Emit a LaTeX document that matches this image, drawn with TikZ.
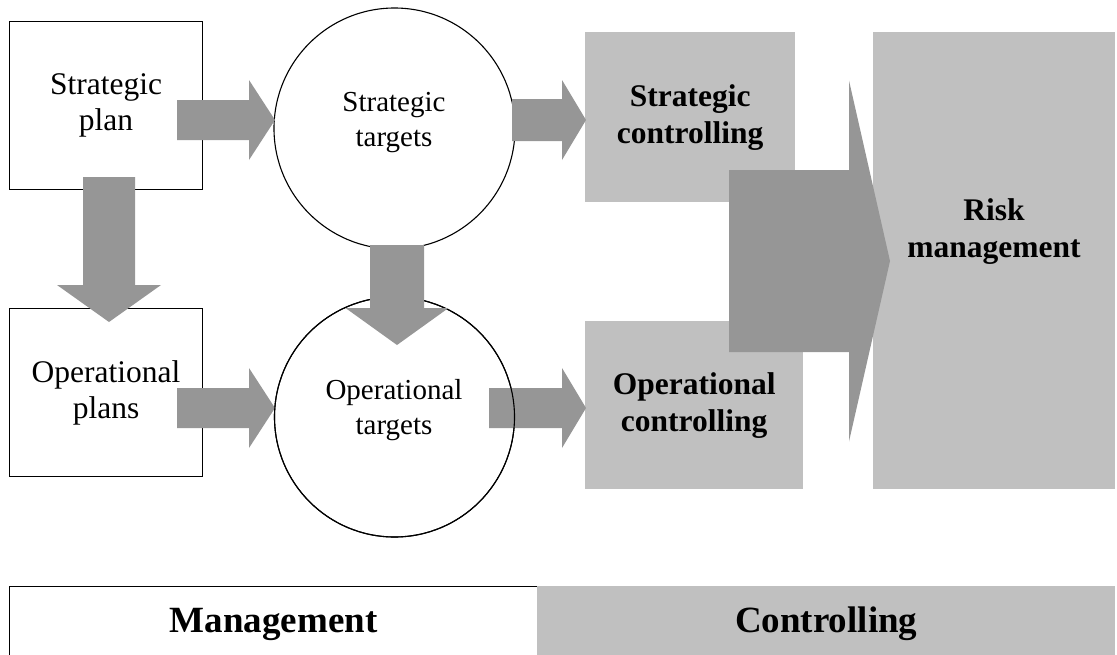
\documentclass[tikz,border=0pt]{standalone}
\usepackage{fontspec}
\setmainfont{Liberation Serif}
\usetikzlibrary{calc}
\definecolor{boxgray}{RGB}{192,192,192}
\definecolor{arrowgray}{RGB}{150,150,150}
\tikzset{
  plainbox/.style={draw=black, line width=1.1pt, fill=white, inner sep=0pt, align=center,
    font=\fontsize{31.5}{36}\selectfont},
  targetcircle/.style={draw=black, line width=1.1pt, fill=white, circle, inner sep=0pt},
  targettext/.style={align=center, inner sep=0pt, font=\fontsize{29}{35}\selectfont},
  ctrlbox/.style={fill=boxgray, inner sep=0pt, align=center,
    font=\bfseries\fontsize{31.5}{37}\selectfont},
  boldtext/.style={align=center, inner sep=0pt, font=\bfseries\fontsize{31.5}{37}\selectfont},
  bottomlabel/.style={font=\bfseries\fontsize{37}{44}\selectfont},
  blockarrow/.style={fill=arrowgray}
}
% right-pointing block arrow: #1 start, #2 tip, #3 head length, #4 half shaft, #5 half head
\newcommand\myrightblock[5]{%
  \fill[blockarrow] let \p1=(#1), \p2=(#2) in
    (\x1,\y2+#4pt) -- (\x2-#3pt,\y2+#4pt) -- (\x2-#3pt,\y2+#5pt) -- (\x2,\y2)
    -- (\x2-#3pt,\y2-#5pt) -- (\x2-#3pt,\y2-#4pt) -- (\x1,\y2-#4pt) -- cycle;}
% down-pointing block arrow
\newcommand\mydownblock[5]{%
  \fill[blockarrow] let \p1=(#1), \p2=(#2) in
    (\x2-#4pt,\y1) -- (\x2-#4pt,\y2+#3pt) -- (\x2-#5pt,\y2+#3pt) -- (\x2,\y2)
    -- (\x2+#5pt,\y2+#3pt) -- (\x2+#4pt,\y2+#3pt) -- (\x2+#4pt,\y1) -- cycle;}
\begin{document}
\begin{tikzpicture}[x=1pt,y=-1pt]
\useasboundingbox (0,0) rectangle (1117,654);
\clip (0,0) rectangle (1117,654);

% management side
\node[plainbox, minimum width=193pt, minimum height=168pt, anchor=north west] (sp) at (9,21) {Strategic\\plan};
\node[plainbox, minimum width=193pt, minimum height=168pt, anchor=north west] (op) at (9,308) {Operational\\plans};
\node[targetcircle, minimum size=241pt] (st) at (394.5,128.5) {};
\node[targetcircle, minimum size=240pt] (ot) at (394.5,417) {};

% controlling side
\node[ctrlbox, minimum width=210pt, minimum height=170pt, anchor=north west] (sc) at (585,32) {Strategic\\controlling};
\node[ctrlbox, minimum width=218pt, minimum height=168pt, anchor=north west] (oc) at (585,321) {Operational\\controlling};
\node[ctrlbox, minimum width=242pt, minimum height=457pt, anchor=north west] (risk) at (873,32) {};

% bottom bar
\node[draw=black, line width=1.1pt, fill=white, minimum width=528pt, minimum height=75pt, anchor=north west, bottomlabel] (mgmt) at (9,586) {Management};
\node[fill=boxgray, minimum width=578pt, minimum height=75pt, anchor=north west, bottomlabel] (ctrl) at (537,586) {Controlling};

% arrow end points
\coordinate (a1s) at (177,120);  \coordinate (a1t) at (275,120);
\coordinate (a2s) at (177,408);  \coordinate (a2t) at (275,408);
\coordinate (a3s) at (512,120);  \coordinate (a3t) at (586,120);
\coordinate (a4s) at (489,408);  \coordinate (a4t) at (586,408);
\coordinate (a5s) at (109,177);  \coordinate (a5t) at (109,322);
\coordinate (a6s) at (397,245);  \coordinate (a6t) at (397,345);
\coordinate (a7s) at (729,261);  \coordinate (a7t) at (890,261);

\myrightblock{a1s}{a1t}{26}{20}{40}
\myrightblock{a2s}{a2t}{26}{20}{40}
\myrightblock{a3s}{a3t}{24}{21}{40}
\myrightblock{a4s}{a4t}{24}{20}{40}
\mydownblock{a5s}{a5t}{37}{26}{52}
\myrightblock{a7s}{a7t}{41}{91}{180.5}

% operational targets outline over its outgoing arrow
\draw[line width=1.1pt] (ot.center) circle (120pt);
\mydownblock{a6s}{a6t}{37}{27}{51.5}

% texts
\node[targettext] (stt) at (394,123) {Strategic\\targets};
\node[targettext] (ott) at (394,410) {Operational\\targets};
\node[boldtext] (riskt) at (994,232) {Risk\\management};
\end{tikzpicture}
\end{document}
